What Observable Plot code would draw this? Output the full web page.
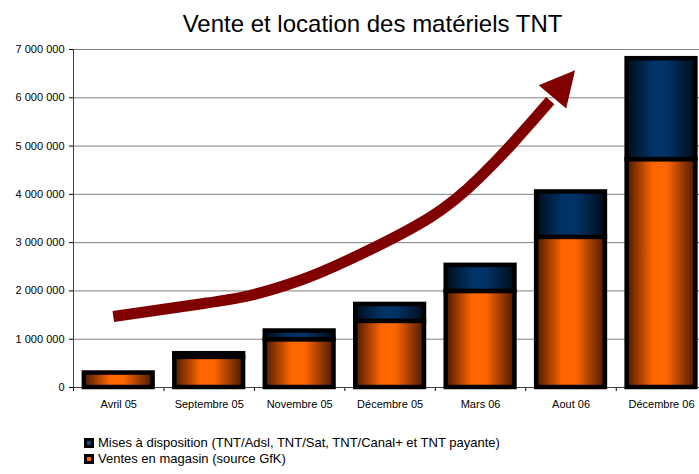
<!DOCTYPE html>
<html>
<head>
<meta charset="utf-8">
<script src="https://cdn.jsdelivr.net/npm/d3@7"></script>
<script src="https://cdn.jsdelivr.net/npm/@observablehq/plot@0.6"></script>
<style>
  html, body { margin: 0; padding: 0; background: #fff; overflow: hidden; }
  body { width: 699px; height: 474px; font-family: "Liberation Sans", Arial, sans-serif; }
  .title { box-sizing: border-box; height: 40px; padding-top: 12px; padding-left: 46px; width: 699px;
           text-align: center; font-size: 24px; line-height: 24px; color: #000; white-space: nowrap; }
  .legend { box-sizing: border-box; height: 50px; padding-top: 11px; padding-left: 84px; font-size: 13px; line-height: 16px; color: #000; }
  .legend div { white-space: nowrap; }
  .sw { display: inline-block; width: 10px; height: 10px; background: #000; position: relative; margin-right: 4px; vertical-align: -1px; }
  .sw i { position: absolute; left: 3px; top: 3px; width: 4px; height: 4px; }
  #chart svg { display: block; }
</style>
</head>
<body>
<div class="title">Vente et location des matériels TNT</div>
<div id="chart"></div>
<div class="legend">
  <div><span class="sw"><i style="background:#0a4a8a"></i></span>Mises à disposition (TNT/Adsl, TNT/Sat, TNT/Canal+ et TNT payante)</div>
  <div><span class="sw"><i style="background:#ff6600"></i></span>Ventes en magasin (source GfK)</div>
</div>
<script>
const categories = ["Avril 05", "Septembre 05", "Novembre 05", "Décembre 05", "Mars 06", "Aout 06", "Décembre 06"];
const ventes = [300000, 625000, 990000, 1370000, 1990000, 3110000, 4720000];
const mises = [0, 75000, 180000, 350000, 540000, 940000, 2090000];
const yTicks = [0, 1000000, 2000000, 3000000, 4000000, 5000000, 6000000, 7000000];
// trend arrow (annotation), in category-index / value units
const trendX = [-0.06, 0.90, 1.45, 2.00, 2.55, 3.44, 3.99, 4.36, 4.77];
const trendY = [1470000, 1730000, 1905000, 2215000, 2650000, 3520000, 4350000, 5070000, 5940000];
const arrowTip = [5.05, 6560000];

const rows = categories.map((c, i) => ({c, i, ventes: ventes[i], mises: mises[i], total: ventes[i] + mises[i]}));
const trend = trendX.map((x, k) => ({x, y: trendY[k]}));
const boundaries = d3.range(categories.length + 1).map(i => i - 0.5);
const halfW = 0.38;
const fmt = d => d3.format(",")(d).replace(/,/g, " ");

function gradient(id, dark, bright) {
  const ns = "http://www.w3.org/2000/svg";
  const lg = document.createElementNS(ns, "linearGradient");
  lg.setAttribute("id", id);
  lg.setAttribute("x1", "0"); lg.setAttribute("x2", "1"); lg.setAttribute("y1", "0"); lg.setAttribute("y2", "0");
  [[0, dark], [0.38, bright], [0.58, bright], [1, dark]].forEach(([o, c]) => {
    const s = document.createElementNS(ns, "stop");
    s.setAttribute("offset", o); s.setAttribute("stop-color", c);
    lg.appendChild(s);
  });
  return lg;
}

const chart = Plot.plot({
  width: 699,
  height: 384,
  marginLeft: 73,
  marginRight: 0,
  marginTop: 9,
  marginBottom: 37,
  style: {fontFamily: "'Liberation Sans', Arial, sans-serif", fontSize: "11px", color: "#000", background: "#fff"},
  x: {type: "linear", domain: [-0.5, 6.42], ticks: boundaries, tickFormat: () => "", tickSize: 4, label: null},
  y: {domain: [0, 7000000], ticks: yTicks, tickFormat: fmt, tickSize: 4, tickPadding: 5, label: null},
  marks: [
    () => {
      const ns = "http://www.w3.org/2000/svg";
      const defs = document.createElementNS(ns, "defs");
      defs.appendChild(gradient("gradOrange", "#4a1800", "#ff6600"));
      defs.appendChild(gradient("gradBlue", "#000c1a", "#003366"));
      return defs;
    },
    Plot.ruleY(yTicks.filter(d => d > 0), {stroke: "#808080", strokeWidth: 1}),
    Plot.ruleX([-0.5], {y1: 0, y2: 7000000, stroke: "#404040", strokeWidth: 1}),
    Plot.ruleY([0], {stroke: "#404040", strokeWidth: 1}),
    Plot.rectY(rows, {x1: d => d.i - halfW, x2: d => d.i + halfW, y1: 0, y2: "ventes",
      fill: "url(#gradOrange)", stroke: "#000", strokeWidth: 4.5}),
    Plot.rectY(rows.filter(d => d.mises > 0), {x1: d => d.i - halfW, x2: d => d.i + halfW, y1: "ventes", y2: "total",
      fill: "url(#gradBlue)", stroke: "#000", strokeWidth: 4.5}),
    Plot.text(rows, {x: "i", y: 0, text: "c", dy: 17, fill: "#000", fontSize: 11}),
    Plot.line(trend, {x: "x", y: "y", curve: "natural", stroke: "#800000", strokeWidth: 11, strokeLinecap: "butt", strokeLinejoin: "round"}),
    (index, scales) => {
      const ns = "http://www.w3.org/2000/svg";
      const {x, y} = scales;
      const tx = x(arrowTip[0]), ty = y(arrowTip[1]);
      const bx = x(trendX[trendX.length - 1]), by = y(trendY[trendY.length - 1]);
      const len = Math.hypot(tx - bx, ty - by);
      const ux = (tx - bx) / len, uy = (ty - by) / len;
      const L = 35, H = 18;
      const cx = tx - ux * L, cy = ty - uy * L;
      const p = document.createElementNS(ns, "path");
      p.setAttribute("d", `M${tx},${ty}L${cx - uy * H},${cy + ux * H}L${cx + uy * H},${cy - ux * H}Z`);
      p.setAttribute("fill", "#800000");
      return p;
    }
  ]
});
document.getElementById("chart").appendChild(chart);
</script>
</body>
</html>
